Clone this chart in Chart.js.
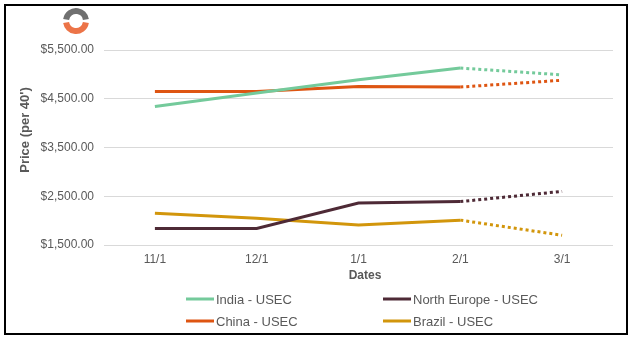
<!DOCTYPE html>
<html><head><meta charset="utf-8">
<script src="https://cdn.jsdelivr.net/npm/chart.js@4/dist/chart.umd.min.js"></script>
<style>
html,body{margin:0;padding:0;background:#fff;}
#wrap{position:relative;width:634px;height:340px;font-family:"Liberation Sans",Arial,sans-serif;}
#frame{position:absolute;left:4px;top:4px;width:620px;height:327px;border:2px solid #000;pointer-events:none;}
canvas{position:absolute;left:0;top:0;}
.t{position:absolute;color:#595959;white-space:nowrap;}
.ytitle{font-weight:bold;font-size:13px;left:24px;top:130px;transform:translate(-50%,-50%) rotate(-90deg);}
.xtitle{font-weight:bold;font-size:12px;left:365px;top:275px;transform:translate(-50%,-50%);}
.leg{font-size:13px;display:flex;align-items:center;transform:translateY(-50%);}
.leg span{display:inline-block;width:28px;height:3px;margin-right:2px;}
</style></head>
<body><div id="wrap">
<canvas id="c" width="634" height="340"></canvas>
<div id="frame"></div>
<div class="t ytitle">Price (per 40')</div>
<div class="t xtitle">Dates</div>
<div id="legend"></div>
</div>
<script>
const dates = ["11/1","12/1","1/1","2/1","3/1"];
const india = [4340, 4620, 4890, 5130, 4990];
const northEurope = [1840, 1840, 2360, 2390, 2600];
const china = [4650, 4650, 4750, 4740, 4880];
const brazil = [2150, 2050, 1910, 2010, 1700];
const seriesNames = ["India - USEC","North Europe - USEC","China - USEC","Brazil - USEC"];
const seriesColors = ["#74CA9B","#4E2A36","#DE5512","#D2960C"];
const seriesData = [india, northEurope, china, brazil];
const yTicks = [1500, 2500, 3500, 4500, 5500];

const legPos = [[186,299],[383,299],[186,321],[383,321]];
const legend = document.getElementById('legend');
seriesNames.forEach((n,i)=>{
  const d=document.createElement('div');
  d.className='t leg';
  d.style.left=legPos[i][0]+'px'; d.style.top=legPos[i][1]+'px';
  d.innerHTML='<span style="background:'+seriesColors[i]+'"></span>'+n;
  legend.appendChild(d);
});

const logo = {
  id:'logo',
  afterDraw(chart){
    const c=chart.ctx; c.save();
    c.lineWidth=6; c.lineCap='butt';
    c.strokeStyle='#707070';
    c.beginPath(); c.arc(76,21,10,Math.PI*1.05,Math.PI*1.95); c.stroke();
    c.strokeStyle='#EC7448';
    c.beginPath(); c.arc(76,21,10,Math.PI*0.05,Math.PI*0.95); c.stroke();
    c.restore();
  }
};

new Chart(document.getElementById('c'), {
  type:'line',
  data:{
    labels: dates,
    datasets: seriesData.map((d,i)=>({
      label: seriesNames[i],
      data: d,
      borderColor: seriesColors[i],
      backgroundColor: seriesColors[i],
      borderWidth: 3,
      pointRadius: 0,
      tension: 0,
      segment:{ borderDash: ctx => ctx.p0DataIndex >= 3 ? [3,3] : undefined }
    }))
  },
  options:{
    responsive:false, animation:false,
    layout:{ padding:{ left:0, right:21, top:50, bottom:55 } },
    plugins:{ legend:{display:false}, tooltip:{enabled:false} },
    scales:{
      x:{
        offset:true,
        grid:{ display:false, drawTicks:false },
        border:{ display:false },
        ticks:{ color:'#595959', font:{ size:12, family:'"Liberation Sans", Arial, sans-serif' }, padding:7 },
        afterFit: s => { s.height = 40; }
      },
      y:{
        min:1500, max:5500,
        afterBuildTicks: s => { s.ticks = yTicks.map(v=>({value:v})); },
        grid:{ color:'#D9D9D9', lineWidth:1, drawTicks:false },
        border:{ display:false },
        ticks:{ color:'#595959', font:{ size:12, family:'"Liberation Sans", Arial, sans-serif' }, padding:10,
          callback: v => '$' + Number(v).toLocaleString('en-US',{minimumFractionDigits:2, maximumFractionDigits:2}) },
        afterFit: s => { s.width = 104; }
      }
    }
  },
  plugins:[logo]
});
</script>
</body></html>
